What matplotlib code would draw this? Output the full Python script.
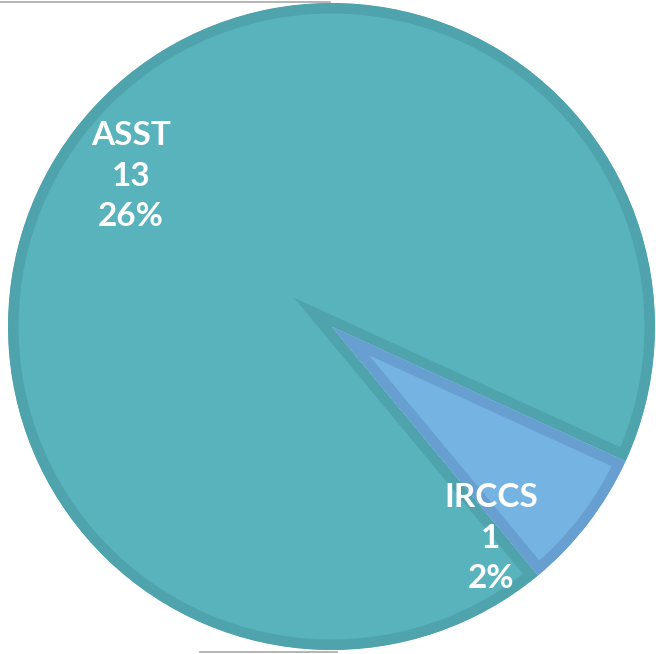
import matplotlib
matplotlib.use("Agg")
import matplotlib.pyplot as plt
from matplotlib.lines import Line2D

# ---- data ----
categories = ["ASST", "IRCCS"]
counts = [13, 1]
percents = ["26%", "2%"]

# ---- style ----
fill_colors = ["#58b3bd", "#74b3e2"]
edge_colors = ["#4fa3ad", "#67a0d0"]
W, H = 656, 654
center = (331.5, H - 326.5)
radius = 323.5
start_angle = -24.6
border_px = 21  # drawn at double width and clipped to the slice => inside border

fig = plt.figure(figsize=(W / 100, H / 100), dpi=100)
ax = fig.add_axes([0, 0, 1, 1])

wedges, _ = ax.pie(counts, startangle=start_angle, counterclock=True,
                   radius=radius, center=center, colors=fill_colors,
                   wedgeprops=dict(linewidth=border_px * 72 / 100,
                                   joinstyle="miter"))
for w, ec in zip(wedges, edge_colors):
    w.set_edgecolor(ec)
    w.set_clip_on(True)
    w.set_clip_path(w)

ax.set_xlim(0, W)
ax.set_ylim(0, H)
ax.set_aspect("equal", adjustable="box")
ax.axis("off")

# labels
label_pos = [(131, H - 176), (491, H - 538)]
for cat, cnt, pct, (x, y) in zip(categories, counts, percents, label_pos):
    ax.text(x, y, f"{cat}\n{cnt}\n{pct}", ha="center", va="center",
            color="white", fontsize=24, fontweight="bold", family="Lato",
            linespacing=1.48)

# faint grey frame remnants
fig.add_artist(Line2D([0, 330 / W], [1 - 1.5 / H, 1 - 1.5 / H],
                      transform=fig.transFigure, color="#a8a8a8", lw=1.2))
fig.add_artist(Line2D([200 / W, 337 / W], [2 / H, 2 / H],
                      transform=fig.transFigure, color="#a8a8a8", lw=1.2))

fig.savefig("out.png", dpi=100)
